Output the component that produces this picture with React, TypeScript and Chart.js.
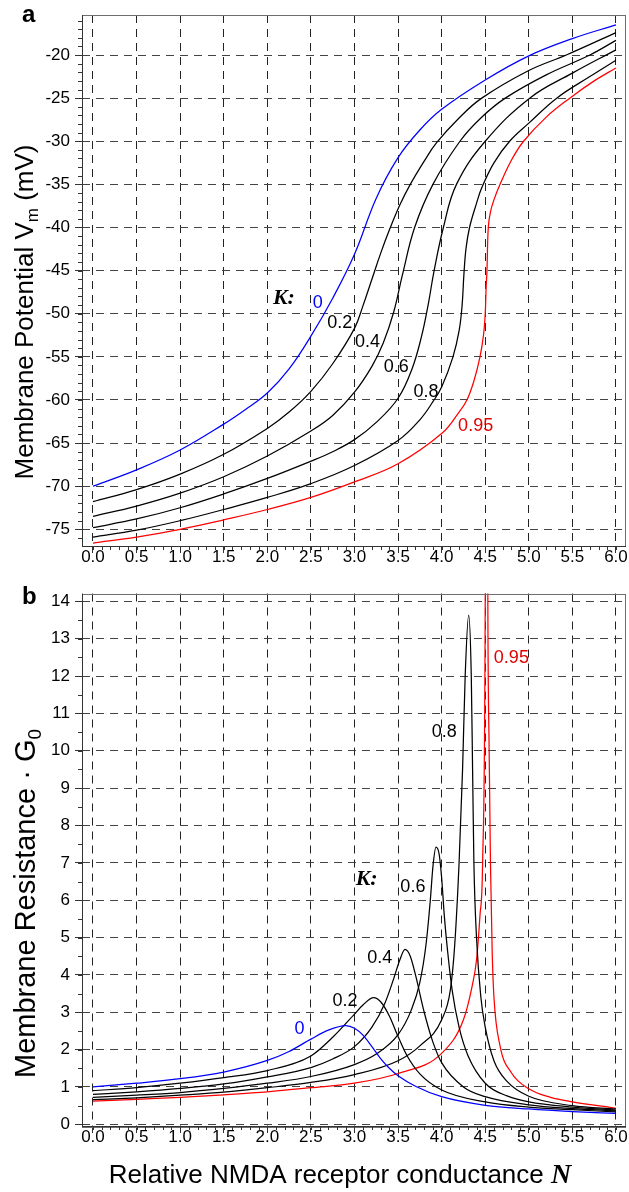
import { useEffect, useRef } from "react";
import { Chart, registerables } from "chart.js";

Chart.register(...registerables);

// ---------- axis ticks ----------
const nTicks = [0, 0.5, 1, 1.5, 2, 2.5, 3, 3.5, 4, 4.5, 5, 5.5, 6];
const vmTicks = [-75, -70, -65, -60, -55, -50, -45, -40, -35, -30, -25, -20];
const rTicks = [0, 1, 2, 3, 4, 5, 6, 7, 8, 9, 10, 11, 12, 13, 14];
const kNames = ["0", "0.2", "0.4", "0.6", "0.8", "0.95"];

// ---------- panel a: membrane potential (mV) vs N ----------
const vmN_K0 = [0, 0.5, 1, 1.5, 1.75, 2, 2.25, 2.5, 2.75, 3, 3.25, 3.5, 3.75, 4, 4.5, 5, 5.5, 6];
const vm_K0 = [-70, -68.1, -65.8, -62.8, -61.1, -59.2, -56.4, -52.6, -48.2, -43.1, -36.6, -31.9, -28.7, -26.3, -22.9, -20.1, -18.1, -16.5];

const vmN_K02 = [0, 0.5, 1, 1.5, 2, 2.25, 2.5, 2.75, 3, 3.1, 3.2, 3.3, 3.4, 3.52, 3.64, 3.8, 3.94, 4.2, 4.46, 5, 5.43, 6];
const vm_K02 = [-71.8, -70.4, -68.6, -66.3, -63.3, -61.4, -59.0, -55.8, -51.7, -49.0, -46.0, -43.0, -40.3, -37.4, -35, -32.3, -30.2, -27.3, -25, -21.8, -20, -17.4];

const vmN_K04 = [0, 0.5, 1, 1.5, 2, 2.5, 2.75, 3, 3.2, 3.33, 3.45, 3.55, 3.69, 3.9, 4.21, 4.45, 4.73, 5.2, 5.7, 6];
const vm_K04 = [-73.5, -72.3, -70.8, -68.9, -66.5, -63.6, -61.8, -59.1, -56.1, -53.4, -49.8, -45.5, -40, -35, -30, -27.3, -25, -22.3, -20, -18.3];

const vmN_K06 = [0, 0.5, 1, 1.5, 2, 2.5, 2.75, 3, 3.25, 3.5, 3.66, 3.77, 3.85, 3.91, 4.02, 4.17, 4.5, 5.01, 5.5, 6];
const vm_K06 = [-74.8, -73.8, -72.5, -70.9, -69.1, -67.1, -66.0, -64.6, -62.6, -59.8, -56.4, -52.6, -48.7, -45.2, -40, -35, -30, -25, -22.1, -19.4];

const vmN_K08 = [0, 0.5, 1, 1.5, 2, 2.5, 3, 3.5, 3.75, 3.9, 4, 4.13, 4.2, 4.235, 4.255, 4.28, 4.32, 4.4, 4.46, 4.6, 4.78, 5, 5.32, 5.7, 6];
const vm_K08 = [-75.9, -75.1, -74, -72.7, -71.3, -69.7, -67.6, -64.7, -62.3, -60.2, -58.5, -55, -52, -49, -45.5, -42.4, -40, -37.2, -35.4, -32.5, -30, -27.9, -25, -22.5, -20.6];

const vmN_K095 = [0, 0.5, 1, 1.5, 2, 2.5, 3, 3.5, 4, 4.2, 4.29, 4.37, 4.44, 4.48, 4.5, 4.51, 4.52, 4.535, 4.56, 4.6, 4.67, 4.8, 4.94, 5.2, 5.47, 5.75, 6];
const vm_K095 = [-76.6, -75.9, -75, -73.9, -72.7, -71.3, -69.5, -67.4, -63.9, -61.4, -60, -57.8, -55, -52.5, -50, -47, -45, -40, -38.2, -36.8, -35, -32.2, -30, -27.2, -25, -23, -21.5];

// ---------- panel b: membrane resistance * G0 vs N ----------
const rN_K0 = [0, 0.5, 1, 1.5, 2, 2.25, 2.5, 2.7, 2.9, 3, 3.1, 3.2, 3.3, 3.4, 3.5, 3.7, 4, 4.5, 5, 5.5, 6];
const r_K0 = [1.0, 1.1, 1.22, 1.4, 1.71, 1.95, 2.28, 2.52, 2.64, 2.57, 2.38, 2.08, 1.76, 1.5, 1.3, 1.02, 0.74, 0.51, 0.41, 0.34, 0.29];

const rN_K02 = [0, 0.5, 1, 1.5, 2, 2.5, 2.75, 3, 3.1, 3.22, 3.3, 3.4, 3.5, 3.6, 3.75, 4, 4.5, 5, 5.5, 6];
const r_K02 = [0.9, 0.98, 1.1, 1.25, 1.44, 1.83, 2.33, 2.95, 3.2, 3.39, 3.28, 2.9, 2.35, 1.85, 1.35, 0.92, 0.6, 0.46, 0.39, 0.33];

const rN_K04 = [0, 0.5, 1, 1.5, 2, 2.5, 2.75, 3, 3.2, 3.35, 3.45, 3.52, 3.58, 3.64, 3.7, 3.8, 3.9, 4, 4.25, 4.5, 5, 5.5, 6];
const r_K04 = [0.8, 0.87, 0.96, 1.08, 1.27, 1.52, 1.75, 2.08, 2.6, 3.25, 3.9, 4.4, 4.68, 4.5, 4.0, 3.0, 2.2, 1.65, 1.0, 0.74, 0.52, 0.42, 0.36];

const rN_K06 = [0, 0.5, 1, 1.5, 2, 2.5, 3, 3.25, 3.5, 3.65, 3.75, 3.82, 3.87, 3.9, 3.935, 3.97, 4, 4.03, 4.07, 4.12, 4.2, 4.3, 4.5, 4.75, 5, 5.5, 6];
const r_K06 = [0.72, 0.78, 0.85, 0.96, 1.1, 1.28, 1.6, 1.88, 2.4, 3.05, 3.8, 4.8, 6.0, 6.9, 7.42, 7.25, 6.6, 5.6, 4.6, 3.6, 2.6, 1.85, 1.1, 0.76, 0.6, 0.46, 0.38];

const rN_K08 = [0, 0.5, 1, 1.5, 2, 2.5, 3, 3.5, 3.75, 4, 4.1, 4.15, 4.2, 4.24, 4.27, 4.31, 4.34, 4.355, 4.37, 4.4, 4.45, 4.5, 4.6, 4.75, 5, 5.5, 6];
const r_K08 = [0.66, 0.71, 0.78, 0.86, 0.98, 1.12, 1.33, 1.7, 2.1, 2.8, 3.6, 4.8, 7.0, 9.5, 12.0, 13.63, 12.0, 9.5, 7.0, 5.0, 3.4, 2.6, 1.7, 1.15, 0.75, 0.5, 0.41];

const rN_K095 = [0, 0.5, 1, 1.5, 2, 2.5, 3, 3.5, 4, 4.25, 4.35, 4.4, 4.44, 4.47, 4.5, 4.515, 4.53, 4.545, 4.56, 4.58, 4.6, 4.67, 4.8, 5, 5.25, 5.5, 6];
const r_K095 = [0.62, 0.67, 0.72, 0.79, 0.87, 0.98, 1.1, 1.36, 1.9, 2.8, 3.7, 4.4, 5.6, 7.0, 14, 30, 14, 10, 7, 4.6, 3.4, 2.1, 1.38, 0.95, 0.72, 0.6, 0.43];

// ---------- styling ----------
const BLUE = "#0000ff";
const BLACK = "#000000";
const RED = "#ff0000";
const kColors = [BLUE, BLACK, BLACK, BLACK, BLACK, RED];
const SANS = '"Liberation Sans", Arial, sans-serif';
const SERIF = '"Liberation Serif", "Times New Roman", serif';

const pts = (xs: number[], ys: number[]) => xs.map((x, i) => ({ x, y: ys[i] }));

const seriesA = [
  [vmN_K0, vm_K0],
  [vmN_K02, vm_K02],
  [vmN_K04, vm_K04],
  [vmN_K06, vm_K06],
  [vmN_K08, vm_K08],
  [vmN_K095, vm_K095],
];
const seriesB = [
  [rN_K0, r_K0],
  [rN_K02, r_K02],
  [rN_K04, r_K04],
  [rN_K06, r_K06],
  [rN_K08, r_K08],
  [rN_K095, r_K095],
];

// curve labels (data coordinates)
const labelsA = [
  { t: "K:", n: 2.19, v: -48.2, k: -1 },
  { t: kNames[0], n: 2.58, v: -48.8, k: 0 },
  { t: kNames[1], n: 2.83, v: -51.1, k: 1 },
  { t: kNames[2], n: 3.15, v: -53.3, k: 2 },
  { t: kNames[3], n: 3.48, v: -56.2, k: 3 },
  { t: kNames[4], n: 3.82, v: -59.1, k: 4 },
  { t: kNames[5], n: 4.39, v: -63.0, k: 5 },
];
const labelsB = [
  { t: "K:", n: 3.14, v: 6.55, k: -1 },
  { t: kNames[0], n: 2.37, v: 2.54, k: 0 },
  { t: kNames[1], n: 2.89, v: 3.31, k: 1 },
  { t: kNames[2], n: 3.29, v: 4.45, k: 2 },
  { t: kNames[3], n: 3.67, v: 6.36, k: 3 },
  { t: kNames[4], n: 4.03, v: 10.49, k: 4 },
  { t: kNames[5], n: 4.8, v: 12.48, k: 5 },
];

type Part = { text: string; font: string; dy?: number; color?: string };

function drawRich(ctx: CanvasRenderingContext2D, parts: Part[], cx: number, cy: number, rotate: boolean) {
  ctx.save();
  ctx.translate(cx, cy);
  if (rotate) ctx.rotate(-Math.PI / 2);
  ctx.textBaseline = "alphabetic";
  ctx.textAlign = "left";
  let total = 0;
  const widths = parts.map((p) => {
    ctx.font = p.font;
    const w = ctx.measureText(p.text).width;
    total += w;
    return w;
  });
  let x = -total / 2;
  parts.forEach((p, i) => {
    ctx.font = p.font;
    ctx.fillStyle = p.color || "#000";
    ctx.fillText(p.text, x, p.dy || 0);
    x += widths[i];
  });
  ctx.restore();
}

const decorPlugin = {
  id: "decor",
  afterDraw(chart: any, _args: any, opts: any) {
    const { ctx, chartArea: a, scales } = chart;
    const xs = scales.x;
    const ys = scales.y;
    ctx.save();
    // frame
    ctx.strokeStyle = "#6e6e6e";
    ctx.lineWidth = 1;
    ctx.setLineDash([]);
    ctx.strokeRect(Math.round(a.left) + 0.5, Math.round(a.top) + 0.5, Math.round(a.right - a.left) - 1, Math.round(a.bottom - a.top) - 1);
    // left / bottom axis lines darker
    ctx.strokeStyle = "#333";
    ctx.beginPath();
    ctx.moveTo(Math.round(a.left) + 0.5, a.top);
    ctx.lineTo(Math.round(a.left) + 0.5, a.bottom);
    ctx.moveTo(a.left, Math.round(a.bottom) - 0.5);
    ctx.lineTo(a.right, Math.round(a.bottom) - 0.5);
    ctx.stroke();
    // minor ticks
    ctx.strokeStyle = "#333";
    ctx.beginPath();
    for (let i = 0; i <= 60; i++) {
      const v = i / 10;
      const px = Math.round(xs.getPixelForValue(v)) + 0.5;
      ctx.moveTo(px, a.bottom);
      ctx.lineTo(px, a.bottom + 3);
    }
    for (let v = opts.yMinorFrom; v <= opts.yMinorTo + 1e-9; v += opts.yMinorStep) {
      const py = Math.round(ys.getPixelForValue(v)) + 0.5;
      if (py < a.top || py > a.bottom) continue;
      ctx.moveTo(a.left - 4, py);
      ctx.lineTo(a.left, py);
    }
    ctx.stroke();

    // panel letter
    ctx.fillStyle = "#000";
    ctx.font = `bold 24px ${SANS}`;
    ctx.textAlign = "left";
    ctx.textBaseline = "alphabetic";
    ctx.fillText(opts.letter, opts.letterX, opts.letterY);

    // y title
    drawRich(ctx, opts.yTitle, opts.yTitleX, opts.yTitleY, true);
    // x title
    if (opts.xTitle) drawRich(ctx, opts.xTitle, opts.xTitleX, opts.xTitleY, false);

    // curve labels
    ctx.textAlign = "center";
    ctx.textBaseline = "middle";
    for (const l of opts.labels) {
      const px = xs.getPixelForValue(l.n);
      const py = ys.getPixelForValue(l.v);
      if (l.k < 0) {
        ctx.font = `italic bold 22px ${SERIF}`;
        ctx.fillStyle = "#000";
      } else {
        ctx.font = `18px ${SANS}`;
        ctx.fillStyle = l.k === 5 ? "#e00000" : kColors[l.k];
      }
      ctx.fillText(l.t, px, py);
    }
    ctx.restore();
  },
};

function makeConfig(
  series: number[][][],
  yMin: number,
  yMax: number,
  yTicks: number[],
  padTop: number,
  xAxisH: number,
  smooth: "monotone" | "default",
  decor: any
): any {
  const datasets = series.map((s, i) => ({
    label: "K=" + kNames[i],
    data: pts(s[0], s[1]),
    borderColor: kColors[i],
    backgroundColor: kColors[i],
    borderWidth: 1.25,
    pointRadius: 0,
    fill: false,
    cubicInterpolationMode: smooth,
    tension: smooth === "default" ? 0.4 : 0,
  }));
  return {
    type: "line",
    data: { datasets },
    options: {
      responsive: false,
      animation: false,
      events: [],
      layout: { padding: { left: 0, right: 3, top: padTop, bottom: 0 } },
      plugins: { legend: { display: false }, tooltip: { enabled: false }, decor },
      scales: {
        x: {
          type: "linear",
          min: -0.126,
          max: 6.115,
          afterBuildTicks: (s: any) => {
            s.ticks = nTicks.map((v) => ({ value: v }));
          },
          afterFit: (s: any) => {
            s.height = xAxisH;
          },
          ticks: {
            autoSkip: false,
            maxRotation: 0,
            color: "#000",
            padding: -4,
            font: { family: SANS, size: 17, lineHeight: 1 },
            callback: (v: any) => Number(v).toFixed(1),
          },
          grid: { color: "#222", lineWidth: 1, drawTicks: true, tickLength: 6, tickColor: "#333", tickWidth: 1 },
          border: { display: false, dash: [8, 6] },
        },
        y: {
          type: "linear",
          min: yMin,
          max: yMax,
          afterBuildTicks: (s: any) => {
            s.ticks = yTicks.map((v) => ({ value: v }));
          },
          afterFit: (s: any) => {
            s.width = 82;
          },
          ticks: {
            autoSkip: false,
            color: "#000",
            padding: 5,
            font: { family: SANS, size: 17, lineHeight: 1 },
            callback: (v: any) => String(v),
          },
          grid: { color: "#444", lineWidth: 1, drawTicks: true, tickLength: 7, tickColor: "#333", tickWidth: 1 },
          border: { display: false, dash: [8, 6] },
        },
      },
    },
    plugins: [decorPlugin],
  };
}

export default function App() {
  const topRef = useRef<HTMLCanvasElement>(null);
  const botRef = useRef<HTMLCanvasElement>(null);

  useEffect(() => {
    document.body.style.margin = "0";
    const topDecor = {
      letter: "a",
      letterX: 22,
      letterY: 22,
      yTitle: [
        { text: "Membrane Potential V", font: `26px ${SANS}` },
        { text: "m", font: `17px ${SANS}`, dy: 5 },
        { text: " (mV)", font: `26px ${SANS}` },
      ],
      yTitleX: 33,
      yTitleY: 312,
      yMinorFrom: -77,
      yMinorTo: -16,
      yMinorStep: 1,
      labels: labelsA,
    };
    const botDecor = {
      letter: "b",
      letterX: 22,
      letterY: 24,
      yTitle: [
        { text: "Membrane Resistance \u00B7 G", font: `29px ${SANS}` },
        { text: "0", font: `19px ${SANS}`, dy: 6 },
      ],
      yTitleX: 35,
      yTitleY: 323.5,
      xTitle: [
        { text: "Relative NMDA receptor conductance ", font: `26px ${SANS}` },
        { text: "N", font: `italic bold 28px ${SERIF}` },
      ],
      xTitleX: 340,
      xTitleY: 603,
      yMinorFrom: 0,
      yMinorTo: 14,
      yMinorStep: 0.5,
      labels: labelsB,
    };
    const c1 = new Chart(topRef.current as HTMLCanvasElement, makeConfig(seriesA, -77.05, -15.36, vmTicks, 15, 33, "default", topDecor));
    const c2 = new Chart(botRef.current as HTMLCanvasElement, makeConfig(seriesB, -0.072, 14.21, rTicks, 10, 65, "monotone", botDecor));
    return () => {
      c1.destroy();
      c2.destroy();
    };
  }, []);

  return (
    <div style={{ position: "absolute", left: 0, top: 0, width: 629, height: 1192, background: "#fff", overflow: "hidden" }}>
      <canvas ref={topRef} width={629} height={580} style={{ position: "absolute", left: 0, top: 0, display: "block" }} />
      <canvas ref={botRef} width={629} height={612} style={{ position: "absolute", left: 0, top: 580, display: "block" }} />
    </div>
  );
}
